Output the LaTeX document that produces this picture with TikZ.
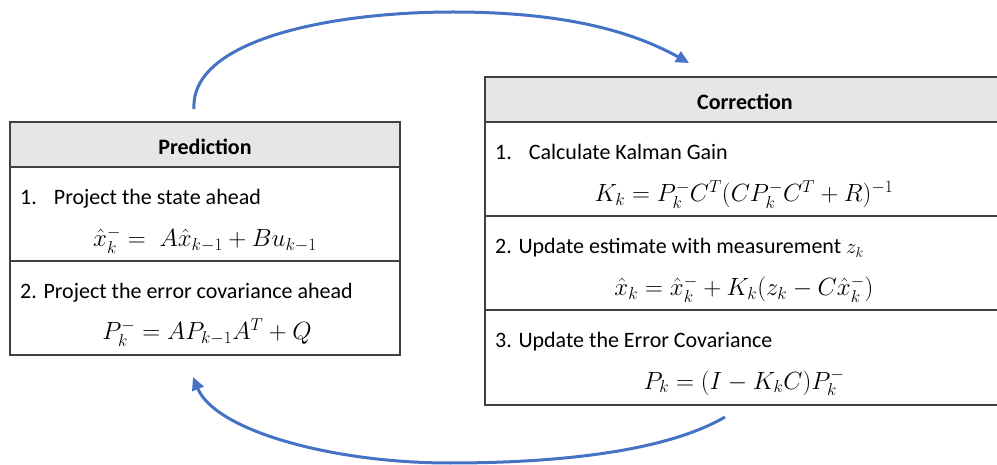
\documentclass[tikz,border=0pt]{standalone}
\usepackage{fontspec}
\setmainfont{Carlito}
\usetikzlibrary{arrows.meta}
\definecolor{cycleblue}{HTML}{4472C4}
\definecolor{rulegray}{HTML}{404040}
\definecolor{headgray}{HTML}{E6E6E6}
\tikzset{
  cell/.style={draw=rulegray, line width=1.1pt, rectangle, inner sep=0pt},
  headcell/.style={cell, fill=headgray},
  headtext/.style={font=\fontsize{22}{26}\selectfont\bfseries, inner sep=0pt, anchor=base},
  steptext/.style={font=\fontsize{22}{26}\selectfont, anchor=base west, inner sep=0pt},
  eqtext/.style={font=\fontsize{23}{27}\selectfont, inner sep=0pt, anchor=base},
  cyclearrow/.style={draw=cycleblue, line width=3pt,
    -{Triangle[length=13pt, width=12pt]}}
}
\begin{document}
\begin{tikzpicture}[x=1pt, y=-1pt]
\useasboundingbox (0,0) rectangle (997,465);
\clip (0,0) rectangle (997,465);

% Prediction table
\node[headcell, minimum width=390pt, minimum height=45pt] (predhead) at (205,144.5) {};
\node[cell, minimum width=390pt, minimum height=94pt] (predone) at (205,214) {};
\node[cell, minimum width=390pt, minimum height=94pt] (predtwo) at (205,308) {};
\node[headtext] (predtitle) at (205,155) {Prediction};
\node[steptext] (predstepa) at (20,205) {1.\hspace{17pt}Project the state ahead};
\node[eqtext] (predeqa) at (205,247) {$\hat{x}_k^- =\; A\hat{x}_{k-1} + Bu_{k-1}$};
\node[steptext] (predstepb) at (20,299) {2. Project the error covariance ahead};
\node[eqtext] (predeqb) at (207,340) {$P_k^- = AP_{k-1}A^T + Q$};

% Correction table (runs past the right edge)
\node[headcell, minimum width=520pt, minimum height=45pt] (corrhead) at (745,99.5) {};
\node[cell, minimum width=520pt, minimum height=94pt] (corrone) at (745,169) {};
\node[cell, minimum width=520pt, minimum height=94pt] (corrtwo) at (745,263) {};
\node[cell, minimum width=520pt, minimum height=95pt] (corrthree) at (745,357.5) {};
\node[headtext] (corrtitle) at (745,110) {Correction};
\node[steptext] (corrstepa) at (495,160) {1.\hspace{17pt}Calculate Kalman Gain};
\node[eqtext] (correqa) at (744,202) {$K_k = P_k^-C^T(CP_k^-C^T + R)^{-1}$};
\node[steptext] (corrstepb) at (495,254) {2. Update estimate with measurement $z_k$};
\node[eqtext] (correqb) at (744,296) {$\hat{x}_k = \hat{x}_k^- + K_k(z_k - C\hat{x}_k^-)$};
\node[steptext] (corrstepc) at (495,348) {3. Update the Error Covariance};
\node[eqtext] (correqc) at (744,389) {$P_k = (I - K_kC)P_k^-$};

% Cycle arrows
\coordinate (predout) at (194,109);
\coordinate (corrin) at (689,63);
\coordinate (corrout) at (725,417);
\coordinate (predin) at (193,377);
\draw[cyclearrow] (predout) .. controls (190,40) and (330,12) .. (453,12)
  .. controls (560,12) and (630,30) .. (corrin);
\draw[cyclearrow] (corrout) .. controls (660,455) and (540,463) .. (450,463)
  .. controls (330,463) and (215,430) .. (predin);
\end{tikzpicture}
\end{document}
